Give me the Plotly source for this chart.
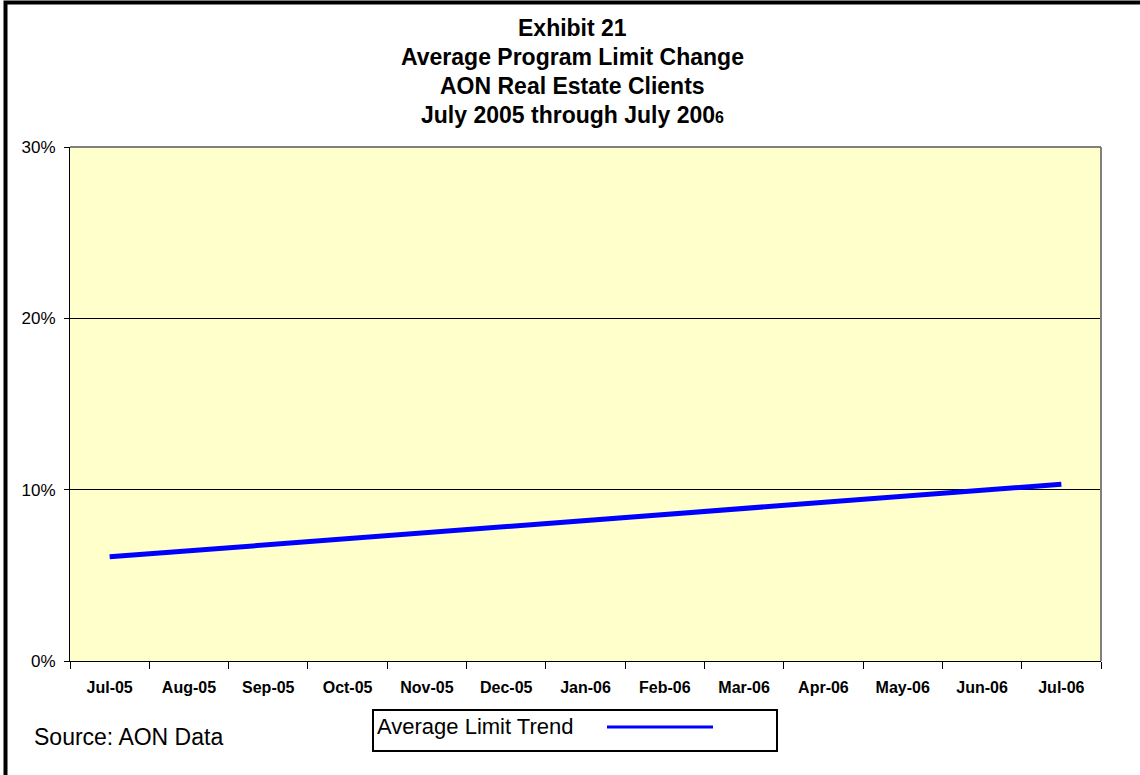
import plotly.graph_objects as go

months = ["Jul-05", "Aug-05", "Sep-05", "Oct-05", "Nov-05", "Dec-05", "Jan-06",
          "Feb-06", "Mar-06", "Apr-06", "May-06", "Jun-06", "Jul-06"]
avg_limit_trend = [0.0608, 0.0643, 0.0678, 0.0713, 0.0749, 0.0784, 0.0819,
                   0.0855, 0.0890, 0.0925, 0.0961, 0.0996, 0.1032]
y_ticks = [0.0, 0.1, 0.2, 0.3]
y_tick_text = ["0%", "10%", "20%", "30%"]

W, H = 1140, 775
L, R, T, B = 70, 39, 147, 114
pw, ph = W - L - R, H - T - B

def px(x):
    return (x - L) / pw

def py(y):
    return (H - B - y) / ph

fig = go.Figure()
fig.add_trace(go.Scatter(
    x=months, y=avg_limit_trend, mode="lines",
    line=dict(color="#0000FF", width=5),
    name="Average Limit Trend", showlegend=False,
))

font = "Liberation Sans, Arial, sans-serif"
title_lines = [("Exhibit 21", 28), ("Average Program Limit Change", 57),
               ("AON Real Estate Clients", 86),
               ("July 2005 through July 200<span style='font-size:16px'>6</span>", 115)]
annotations = []
for txt, yy in title_lines:
    annotations.append(dict(text="<b>" + txt + "</b>", x=px(W / 2 + 2), xref="paper",
                            y=py(yy), yref="paper", showarrow=False,
                            xanchor="center", yanchor="middle",
                            font=dict(family=font, size=23, color="black")))
annotations.append(dict(text="Source: AON Data", x=px(32), xref="paper", y=py(737),
                        yref="paper", showarrow=False, xanchor="left", yanchor="middle",
                        font=dict(family=font, size=23, color="black")))
annotations.append(dict(text="Average Limit Trend", x=px(375), xref="paper", y=py(726),
                        yref="paper", showarrow=False, xanchor="left", yanchor="middle",
                        font=dict(family=font, size=22, color="black")))

shapes = [
    # outer border (right and bottom edges fall outside the picture)
    dict(type="rect", xref="paper", yref="paper", x0=px(5.5), x1=px(1160), y0=py(2.5), y1=py(800),
         line=dict(color="black", width=4), fillcolor="rgba(0,0,0,0)", layer="above"),
    # plot area top and right border
    dict(type="line", xref="paper", yref="paper", x0=0, x1=1, y0=1, y1=1,
         line=dict(color="#808080", width=2)),
    dict(type="line", xref="paper", yref="paper", x0=1, x1=1, y0=0, y1=1,
         line=dict(color="#808080", width=2)),
    # legend box
    dict(type="rect", xref="paper", yref="paper", x0=px(373), x1=px(777), y0=py(710), y1=py(751),
         line=dict(color="black", width=2), fillcolor="white"),
    dict(type="line", xref="paper", yref="paper", x0=px(607), x1=px(713), y0=py(727), y1=py(727),
         line=dict(color="#0000FF", width=3)),
]

fig.update_layout(
    width=W, height=H,
    margin=dict(l=L, r=R, t=T, b=B),
    paper_bgcolor="white", plot_bgcolor="#FFFFCC",
    font=dict(family=font, color="black"),
    annotations=annotations, shapes=shapes,
    xaxis=dict(type="category", range=[-0.5, 12.5], tickson="boundaries",
               ticks="outside", ticklen=7, tickcolor="black", tickwidth=1,
               showline=True, linecolor="black", linewidth=1,
               showgrid=False, tickfont=dict(family=font, size=16, color="black"),
               tickvals=months, ticktext=["<b>%s</b>" % m for m in months],
               ticklabelstandoff=12, fixedrange=True),
    yaxis=dict(range=[0, 0.3], tickvals=y_ticks, ticktext=y_tick_text,
               ticks="outside", ticklen=5, tickcolor="black",
               showline=True, linecolor="black", linewidth=1,
               showgrid=True, gridcolor="black", gridwidth=1, zeroline=False,
               tickfont=dict(family=font, size=17, color="black"),
               ticklabelstandoff=5, fixedrange=True),
)

fig.write_html("out.html")
